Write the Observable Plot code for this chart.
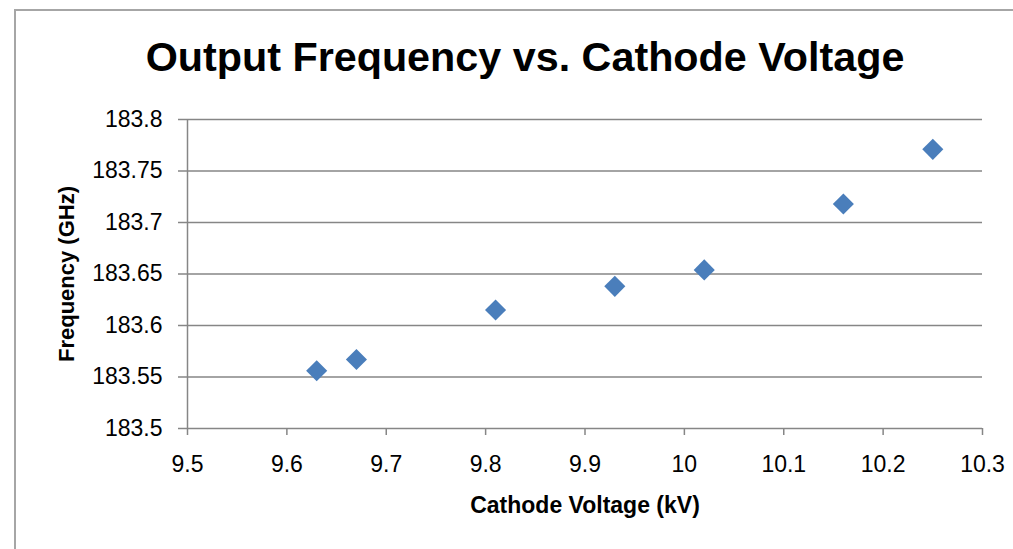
<!DOCTYPE html>
<html>
<head>
<meta charset="utf-8">
<script src="https://cdn.jsdelivr.net/npm/d3@7"></script>
<script src="https://cdn.jsdelivr.net/npm/@observablehq/plot@0.6"></script>
<style>
  html, body { margin: 0; padding: 0; background: #fff; }
  #wrap { position: relative; width: 1013px; height: 549px; overflow: hidden; background: #fff; font-family: "Liberation Sans", Arial, sans-serif; }
  #frame { position: absolute; left: 14px; top: 9px; width: 1100px; height: 700px; border: 2.5px solid #a6a6a6; box-sizing: border-box; }
  #title { position: absolute; left: 37px; top: 37px; width: 976px; text-align: center; font-size: 41.3px; line-height: 41px; font-weight: bold; color: #000; }
  #chart { position: absolute; left: 0; top: 100px; }
</style>
</head>
<body>
<div id="wrap">
  <div id="frame"></div>
  <div id="title"></div>
  <div id="chart"></div>
</div>
<script>
const titleText = "Output Frequency vs. Cathode Voltage";
const xLabel = "Cathode Voltage (kV)";
const yLabel = "Frequency (GHz)";
const voltage = [9.63, 9.67, 9.81, 9.93, 10.02, 10.16, 10.25];
const frequency = [183.556, 183.567, 183.615, 183.638, 183.654, 183.718, 183.771];
const xTicks = [9.5, 9.6, 9.7, 9.8, 9.9, 10.0, 10.1, 10.2, 10.3];
const yTicks = [183.5, 183.55, 183.6, 183.65, 183.7, 183.75, 183.8];

document.getElementById("title").textContent = titleText;

const data = voltage.map((v, i) => ({v, f: frequency[i]}));
const gray = "#868686";

const plot = Plot.plot({
  width: 1013,
  height: 449,
  marginLeft: 187,
  marginRight: 31,
  marginTop: 19,
  marginBottom: 121,
  style: {background: "transparent", fontFamily: "'Liberation Sans', Arial, sans-serif", color: "#000"},
  x: {domain: [9.5, 10.3]},
  y: {domain: [183.5, 183.8]},
  marks: [
    Plot.gridY(yTicks, {stroke: gray, strokeOpacity: 1, strokeWidth: 1.5}),
    Plot.ruleX([9.5], {stroke: gray, strokeWidth: 1.5}),
    Plot.axisY({ticks: yTicks, tickSize: 9, tickPadding: 16, fontSize: 23, stroke: gray, strokeWidth: 1.5, fill: "#000", tickFormat: d => String(+d.toFixed(2)), label: null}),
    Plot.axisX({ticks: xTicks, tickSize: 7, tickPadding: 20, fontSize: 23, stroke: gray, strokeWidth: 1.5, fill: "#000", tickFormat: d => String(+d.toFixed(1)), label: null}),
    Plot.text([yLabel], {frameAnchor: "left", textAnchor: "middle", lineAnchor: "middle", dx: -121, rotate: -90, fontSize: 22, fontWeight: "bold", fill: "#000"}),
    Plot.text([xLabel], {frameAnchor: "bottom", textAnchor: "middle", lineAnchor: "middle", dy: 77, fontSize: 23, fontWeight: "bold", fill: "#000"}),
    Plot.dot(data, {x: "v", y: "f", symbol: "diamond2", r: 9.5, fill: "#4a7ebb", stroke: "none"})
  ]
});
document.getElementById("chart").appendChild(plot);
</script>
</body>
</html>
